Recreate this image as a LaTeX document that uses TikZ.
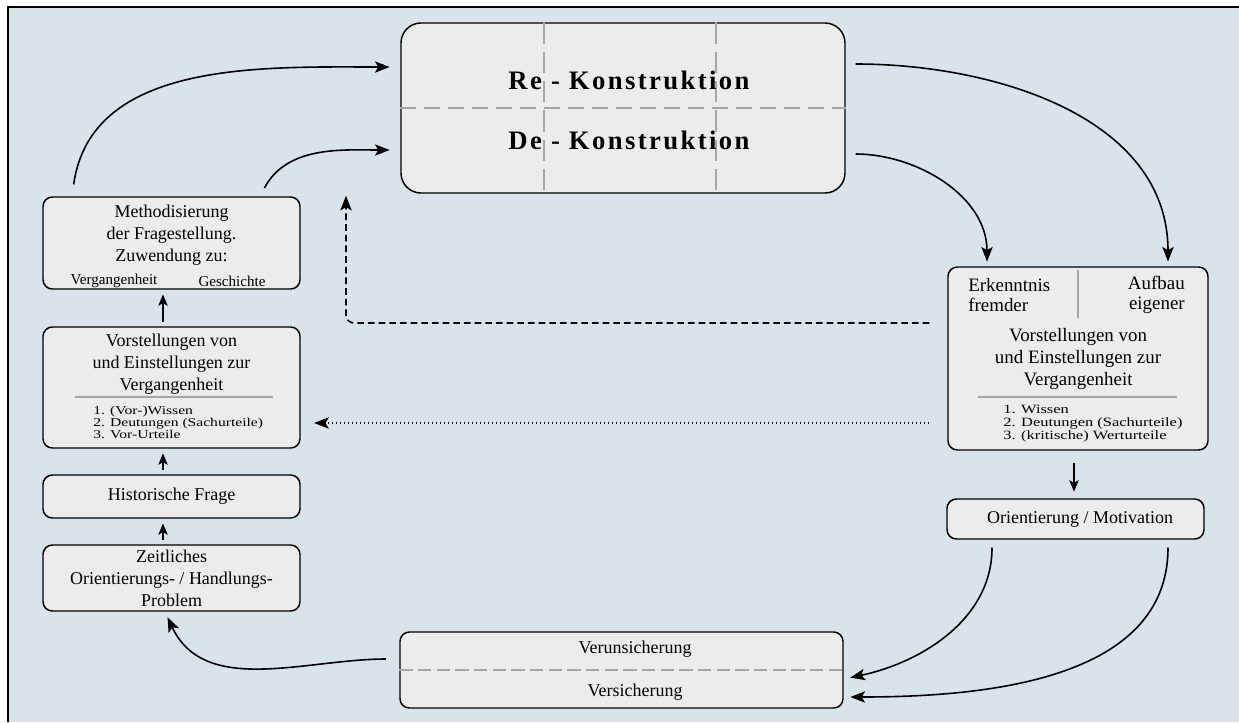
\documentclass[tikz,border=0pt]{standalone}
\usepackage{fontspec}
\setmainfont{Liberation Serif}
\usetikzlibrary{arrows.meta}

\definecolor{bgblue}{HTML}{D9E4EA}
\definecolor{boxgray}{HTML}{ECECEC}
\definecolor{sepgray}{HTML}{A6A6A6}

\newcommand\boxtext{\fontsize{13.5}{16.5}\selectfont}
\newcommand\bigboxtext{\fontsize{14.2}{16.5}\selectfont}
\newcommand\listtext{\fontsize{9}{9}\selectfont\addfontfeatures{FakeStretch=1.3}}

\begin{document}
\begin{tikzpicture}[x=0.75pt, y=-0.75pt,
    box/.style={draw, line width=1.1pt, fill=boxgray, rounded corners=7pt, inner sep=0pt, align=center, font=\boxtext},
    lbl/.style={align=center, inner sep=0pt, font=\boxtext},
    sep/.style={draw=sepgray, line width=0.8pt},
    arr/.style={-{Stealth[length=11pt,width=8.5pt,inset=2.5pt]}, line width=1.2pt},
    up/.style={-{Stealth[length=8.5pt,width=7pt,inset=2pt]}, line width=1.3pt, shorten <=3.5pt, shorten >=3.5pt}]

    % frame
    \useasboundingbox (0,0) rectangle (1239,722);
    \fill[white] (0,0) rectangle (1239,722);
    \fill[bgblue] (8,7) rectangle (1239,722);
    \draw[line width=1.6pt] (8,722) -- (8,7) -- (1239,7);

    % boxes
    \node[box, minimum width=333pt, minimum height=127.5pt, rounded corners=15pt] (rk) at (623,108) {};
    \node[box, minimum width=192.75pt, minimum height=69pt] (meth) at (171.5,243) {};
    \node[box, minimum width=192.75pt, minimum height=90.75pt] (vorl) at (171.5,387.5) {};
    \node[box, minimum width=192.75pt, minimum height=32.25pt] (hist) at (171.5,496.5) {Historische Frage};
    \node[box, minimum width=192.75pt, minimum height=49.5pt] (zeit) at (171.5,578) {Zeitliches\\Orientierungs- / Handlungs-\\Problem};
    \node[box, minimum width=195pt, minimum height=137.25pt] (erk) at (1078,358.5) {};
    \node[box, minimum width=192.75pt, minimum height=30pt] (ori) at (1075.5,519) {\hspace{7pt}Orientierung / Motivation};
    \node[box, minimum width=332.25pt, minimum height=57pt] (unsich) at (621.5,670) {};

    % Re-/De-Konstruktion
    \draw[sep, dash pattern=on 12pt off 6pt] (rk.west) -- (rk.east);
    \draw[sep, dash pattern=on 16pt off 6pt] (rk.north -| 544,0) -- (rk.south -| 544,0);
    \draw[sep, dash pattern=on 16pt off 6pt] (rk.north -| 716,0) -- (rk.south -| 716,0);
    \node[lbl, font=\fontsize{20}{24}\selectfont\bfseries\addfontfeatures{LetterSpace=9}] (re) at (629,80) {Re - Konstruktion};
    \node[lbl, font=\fontsize{20}{24}\selectfont\bfseries\addfontfeatures{LetterSpace=9}] (de) at (629,140) {De - Konstruktion};

    % left column
    \node[lbl] (methtxt) at (171.5,235) {Methodisierung\\der Fragestellung.\\Zuwendung zu:};
    \node[lbl, font=\fontsize{11.3}{13}\selectfont] (verg) at (114,281) {Vergangenheit};
    \node[lbl, font=\fontsize{11.3}{13}\selectfont] (gesch) at (232,281) {Geschichte};

    \node[lbl] (vorltxt) at (171.5,364) {Vorstellungen von\\und Einstellungen zur\\Vergangenheit};
    \draw[sep] (75,397) -- (273,397);
    \node[lbl, align=left, anchor=west, font=\listtext] (vorllist) at (93,422) {1. (Vor-)Wissen\\2. Deutungen (Sachurteile)\\3. Vor-Urteile};

    % right column
    \draw[sep] (1078,270) -- (1078,318);
    \node[lbl, align=left, anchor=west, font=\fontsize{14.2}{15}\selectfont] (fremd) at (968,295) {Erkenntnis\\fremder};
    \node[lbl, align=right, anchor=east, font=\fontsize{14.2}{15}\selectfont] (eigen) at (1185,295) {Aufbau\\eigener};
    \node[lbl, font=\bigboxtext] (erktxt) at (1078,359) {Vorstellungen von\\und Einstellungen zur\\Vergangenheit};
    \draw[sep] (978,397) -- (1177,397);
    \node[lbl, align=left, anchor=west, font=\fontsize{9.5}{9.75}\selectfont\addfontfeatures{FakeStretch=1.3}] (erklist) at (1003,424) {1. Wissen\\2. Deutungen (Sachurteile)\\3. (kritische) Werturteile};

    % bottom
    \draw[sep, dash pattern=on 10pt off 4pt] (unsich.west) -- (unsich.east);
    \node[lbl] (unsichtxt) at (635,649) {Verunsicherung};
    \node[lbl] (sichtxt) at (635,692) {Versicherung};

    % connectors
    \draw[arr, shorten <=9pt, shorten >=8pt] (meth.north -| 72,0) to[out=82, in=180] (rk.west |- 0,67);
    \draw[arr, shorten <=7pt, shorten >=8pt] (meth.north -| 260,0) to[out=62, in=180] (rk.west |- 0,150);
    \draw[arr, shorten <=7.5pt, shorten >=3.5pt] (rk.east |- 0,64) to[out=0, in=90] (erk.north -| 1168,0);
    \draw[arr, shorten <=7.5pt, shorten >=3.5pt] (rk.east |- 0,154) to[out=0, in=90] (erk.north -| 987,0);
    \draw[up, shorten <=9pt, shorten >=5pt] (erk.south -| 1074,0) -- (ori.north -| 1074,0);
    \draw[arr, shorten <=6pt, shorten >=5pt] (ori.south -| 992,0) to[out=-90, in=12] (unsich.east |- 0,679);
    \draw[arr, shorten <=6pt, shorten >=5pt] (ori.south -| 1168,0) to[out=-90, in=0] (unsich.east |- 0,697);
    \draw[arr, shorten <=10pt, shorten >=4.5pt] (unsich.west |- 0,659) to[out=180, in=-65] (zeit.south -| 165,0);
    \draw[up] (zeit.north -| 163,0) -- (hist.south -| 163,0);
    \draw[up] (hist.north -| 163,0) -- (vorl.south -| 163,0);
    \draw[up] (vorl.north -| 163,0) -- (meth.south -| 163,0);
    \draw[arr, dash pattern=on 5pt off 3pt, rounded corners=6pt, shorten <=13.5pt, shorten >=1.5pt] (erk.west |- 0,323) -| (rk.south -| 346,0);
    \draw[arr, line width=1.3pt, dash pattern=on 1.3pt off 1.7pt, shorten <=13.5pt, shorten >=10pt] (erk.west |- 0,423) -- (vorl.east |- 0,423);
\end{tikzpicture}
\end{document}
